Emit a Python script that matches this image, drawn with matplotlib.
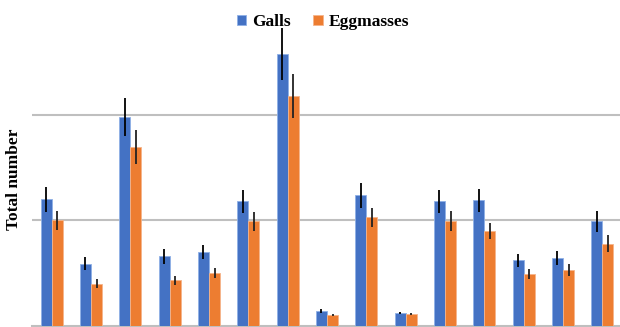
import numpy as np
import matplotlib.pyplot as plt

# Values (one gridline = 100 units)
groups = list(range(1, 16))
galls = [120, 59, 198, 66, 70, 118, 258, 14, 124, 12, 118, 119, 62, 64, 99]
galls_err = [12, 6, 18, 7, 7, 11, 25, 1.6, 12, 1.3, 11, 11, 6, 6.5, 10]
eggs = [100, 40, 170, 43, 50, 99, 218, 10, 103, 11, 99, 90, 49, 53, 78]
eggs_err = [9, 4, 16, 4, 5, 9, 21, 1, 9, 1.1, 9.5, 8, 4.6, 5.6, 8]

blue = "#4472C4"
orange = "#ED7D31"

fig = plt.figure(figsize=(6.2, 3.27), dpi=100)
ax = fig.add_axes([32 / 620, 1.4 / 327, 590 / 620, 305.6 / 327])

x = np.arange(len(groups))
w = 0.28
ax.bar(x - w / 2, galls, w, color=blue, edgecolor="#8fb0e6", linewidth=0.6,
       yerr=galls_err, error_kw=dict(ecolor="black", elinewidth=1.3, capsize=0),
       label="Galls", zorder=3)
ax.bar(x + w / 2, eggs, w, color=orange, edgecolor="#f5b48a", linewidth=0.6,
       yerr=eggs_err, error_kw=dict(ecolor="#222222", elinewidth=1.3, capsize=0),
       label="Eggmasses", zorder=3)

ax.set_xlim(-0.5, len(groups) - 0.5)
ax.set_ylim(0, 290.5)
ax.set_yticks([100, 200])
ax.yaxis.grid(True, color="#bfbfbf", linewidth=1.5, zorder=0)
ax.tick_params(left=False, bottom=False, labelleft=False, labelbottom=False)
for s in ["left", "right", "top"]:
    ax.spines[s].set_visible(False)
ax.spines["bottom"].set_color("#bfbfbf")
ax.spines["bottom"].set_linewidth(1.5)

font = {"family": "Liberation Serif", "weight": "bold", "size": 12.5}
fig.text(14 / 620, 1 - 179 / 327, "Total number", rotation=90, ha="center",
         va="center", fontdict=font)

fig.legend(loc="center", bbox_to_anchor=(323 / 620, 1 - 22 / 327), ncol=2,
           frameon=False, prop=font, handlelength=0.55, handleheight=0.55,
           handletextpad=0.35, columnspacing=1.3, borderpad=0)

fig.savefig("out.png", dpi=100)
